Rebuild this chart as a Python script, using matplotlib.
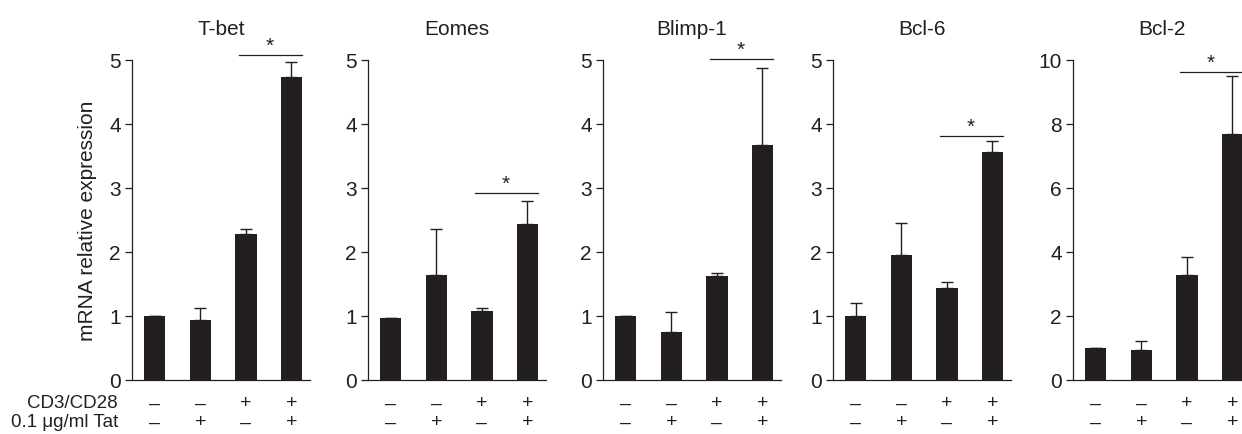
import matplotlib

matplotlib.use("Agg")
import matplotlib.pyplot as plt
import numpy as np

plt.rcParams["font.family"] = ["Liberation Sans", "DejaVu Sans"]

genes = ["T-bet", "Eomes", "Blimp-1", "Bcl-6", "Bcl-2"]
means = {
    "T-bet": [1.0, 0.94, 2.28, 4.73],
    "Eomes": [0.97, 1.64, 1.08, 2.43],
    "Blimp-1": [1.0, 0.75, 1.625, 3.67],
    "Bcl-6": [1.0, 1.95, 1.43, 3.56],
    "Bcl-2": [1.0, 0.94, 3.28, 7.69],
}
errors = {
    "T-bet": [0.0, 0.19, 0.08, 0.24],
    "Eomes": [0.0, 0.72, 0.05, 0.37],
    "Blimp-1": [0.0, 0.32, 0.045, 1.21],
    "Bcl-6": [0.21, 0.50, 0.10, 0.17],
    "Bcl-2": [0.0, 0.27, 0.57, 1.82],
}
sig_heights = {"T-bet": 5.08, "Eomes": 2.92, "Blimp-1": 5.02, "Bcl-6": 3.81, "Bcl-2": 9.62}
y_max = {"T-bet": 5, "Eomes": 5, "Blimp-1": 5, "Bcl-6": 5, "Bcl-2": 10}
y_step = {"T-bet": 1, "Eomes": 1, "Blimp-1": 1, "Bcl-6": 1, "Bcl-2": 2}
cd3_signs = ["\u2013", "\u2013", "+", "+"]
tat_signs = ["\u2013", "+", "\u2013", "+"]

W, H = 1242, 435
dark = "#231f20"

fig = plt.figure(figsize=(W / 100, H / 100), dpi=100)

spine_x = [132, 368, 603, 833, 1073]
ax_w = 178
ax_bottom = 381
ax_top = 61

x = np.arange(4)
for i, gene in enumerate(genes):
    ax = fig.add_axes([spine_x[i] / W, 1 - ax_bottom / H, ax_w / W, (ax_bottom - ax_top) / H])
    ax.bar(x, means[gene], width=0.47, color=dark, zorder=3)
    ax.errorbar(x, means[gene], yerr=[np.zeros(4), errors[gene]], fmt="none",
                ecolor=dark, elinewidth=1.0, capsize=4.3, capthick=1.0, zorder=2)
    ax.set_xlim(-0.5, 3.41)
    ax.set_ylim(0, y_max[gene])
    ax.set_yticks(np.arange(0, y_max[gene] + 0.01, y_step[gene]))
    ax.set_xticks([])
    for s in ("top", "right"):
        ax.spines[s].set_visible(False)
    for s in ("left", "bottom"):
        ax.spines[s].set_linewidth(0.9)
        ax.spines[s].set_color(dark)
    ax.tick_params(axis="y", direction="out", length=5, width=0.9, color=dark,
                   labelsize=15, pad=3, labelcolor=dark)
    ax.set_title(gene, fontsize=15, pad=19, color=dark)

    # significance bar between the last two groups
    h = sig_heights[gene]
    ax.plot([1.84, 3.23], [h, h], color=dark, lw=0.9, clip_on=False)
    ax.text(2.53, h, "*", ha="center", va="bottom", fontsize=15, color=dark)

    for j in range(4):
        ax.annotate(cd3_signs[j], (x[j], 0), xycoords=("data", "axes fraction"),
                    xytext=(0, -23), textcoords="offset pixels", ha="center", va="center",
                    fontsize=14, color=dark)
        ax.annotate(tat_signs[j], (x[j], 0), xycoords=("data", "axes fraction"),
                    xytext=(0, -42), textcoords="offset pixels", ha="center", va="center",
                    fontsize=14, color=dark)

    if i == 0:
        ax.set_ylabel("mRNA relative expression", fontsize=15, labelpad=9, color=dark)

fig.text(118 / W, 1 - 404 / H, "CD3/CD28", ha="right", va="center", fontsize=13.5, color=dark)
fig.text(118 / W, 1 - 423 / H, "0.1 \u03bcg/ml Tat", ha="right", va="center", fontsize=13.5, color=dark)

fig.savefig("out.png", dpi=100)
